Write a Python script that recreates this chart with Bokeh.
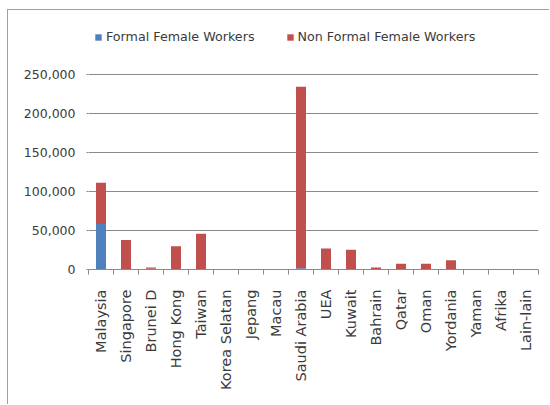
from math import pi
from bokeh.plotting import figure
from bokeh.models import (ColumnDataSource, Range1d, FixedTicker, NumeralTickFormatter,
                          Legend, LegendItem)
from bokeh.embed import file_html
from bokeh.resources import INLINE

countries = ["Malaysia", "Singapore", "Brunei D", "Hong Kong", "Taiwan", "Korea Selatan",
             "Jepang", "Macau", "Saudi Arabia", "UEA", "Kuwait", "Bahrain", "Qatar",
             "Oman", "Yordania", "Yaman", "Afrika", "Lain-lain"]
formal = [58500, 0, 1000, 0, 0, 0, 0, 0, 1500, 0, 0, 0, 0, 0, 0, 0, 0, 0]
non_formal = [53000, 38000, 1500, 30000, 46000, 0, 0, 0, 233500, 27000, 25500, 2500,
              7500, 7500, 12000, 0, 0, 0]
y_ticks = [0, 50000, 100000, 150000, 200000, 250000]
series = ["Formal Female Workers", "Non Formal Female Workers"]
colors = ["#4f81bd", "#c0504d"]

n = len(countries)
xs = list(range(n))
src = ColumnDataSource(dict(x=xs, formal=formal, non_formal=non_formal))

GRAY = "#8a8a8a"
TXT = "#3b3b3b"
FONT = "DejaVu Sans"

# frame extends above the top tick so the legend (inside the frame) is not clipped
p = figure(width=542, height=395, output_backend="svg", toolbar_location=None,
           x_range=Range1d(-0.5, n - 0.5), y_range=Range1d(0, 320000),
           min_border_left=80, min_border_right=12, min_border_top=10,
           min_border_bottom=136)
p.styles = {"margin-left": "7px", "margin-top": "9px",
            "border-left": "1px solid #a0a0a0", "border-top": "1px solid #a0a0a0"}
p.outline_line_color = None
p.background_fill_color = "white"
p.border_fill_color = "white"

rs = p.vbar_stack(["formal", "non_formal"], x="x", width=0.4, source=src,
                  color=colors, line_color=None)

# axes
p.xgrid.grid_line_color = None
p.ygrid.grid_line_color = GRAY
p.ygrid.ticker = FixedTicker(ticks=y_ticks)

ya = p.yaxis[0]
ya.ticker = FixedTicker(ticks=y_ticks)
ya.formatter = NumeralTickFormatter(format="0,0")
ya.axis_line_color = None
ya.major_tick_line_color = GRAY
ya.major_tick_out = 2
ya.major_tick_in = 0
ya.minor_tick_line_color = None
ya.major_label_standoff = 11
ya.major_label_text_font = FONT
ya.major_label_text_font_size = "12.5px"
ya.major_label_text_color = TXT

xa = p.xaxis[0]
xa.ticker = FixedTicker(ticks=xs, minor_ticks=[i - 0.5 for i in range(n + 1)])
xa.major_label_overrides = {i: c for i, c in enumerate(countries)}
xa.major_label_orientation = pi / 2
xa.axis_line_color = GRAY
xa.major_tick_line_color = None
xa.major_tick_out = 0
xa.major_tick_in = 0
xa.minor_tick_line_color = GRAY
xa.minor_tick_out = 5
xa.minor_tick_in = 0
xa.major_label_standoff = 15
xa.major_label_text_font = FONT
xa.major_label_text_font_size = "14.5px"
xa.major_label_text_color = TXT

legend = Legend(items=[LegendItem(label=series[0], renderers=[rs[0]]),
                       LegendItem(label=series[1], renderers=[rs[1]])],
                orientation="horizontal", location=(6, 225),
                padding=0, margin=0, spacing=31, glyph_width=8, glyph_height=8,
                label_standoff=4, border_line_color=None, background_fill_alpha=0,
                label_text_font=FONT, label_text_font_size="12.7px",
                label_text_color=TXT)
p.add_layout(legend, "center")

open("out.html", "w").write(file_html(p, INLINE))
